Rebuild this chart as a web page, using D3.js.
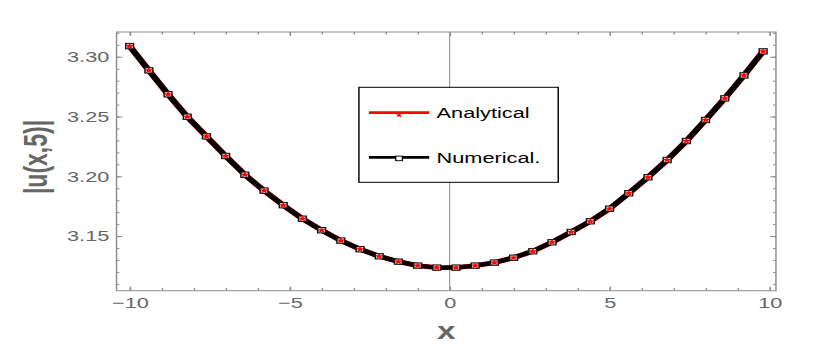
<!DOCTYPE html>
<html>
<head>
<meta charset="utf-8">
<script src="https://cdn.jsdelivr.net/npm/d3@7"></script>
<style>
  body { margin: 0; background: #fff; }
  text { font-family: "Liberation Sans", Arial, sans-serif; }
</style>
</head>
<body>
<svg width="819" height="353"></svg>
<script>
// **** Data ****

var xValues = [-10, -9.4, -8.8, -8.2, -7.6, -7.0, -6.4, -5.8, -5.2, -4.6, -4.0, -3.4,
    -2.8, -2.2, -1.6, -1.0, -0.4, 0.2, 0.8, 1.4, 2.0, 2.6, 3.2, 3.8, 4.4, 5.0,
    5.6, 6.2, 6.8, 7.4, 8.0, 8.6, 9.2, 9.8];

var analytical = [3.3089, 3.2886, 3.2686, 3.2498, 3.2334, 3.2170, 3.2013, 3.1880,
    3.1758, 3.1645, 3.1549, 3.1462, 3.1390, 3.1331, 3.1286, 3.1253, 3.1236, 3.1236,
    3.1253, 3.1278, 3.1319, 3.1373, 3.1448, 3.1534, 3.1624, 3.1729, 3.1858, 3.1992,
    3.2136, 3.2295, 3.2471, 3.2652, 3.2844, 3.3045];

var numerical = [3.3089, 3.2886, 3.2686, 3.2498, 3.2334, 3.2170, 3.2013, 3.1880,
    3.1758, 3.1645, 3.1549, 3.1462, 3.1390, 3.1331, 3.1286, 3.1253, 3.1236, 3.1236,
    3.1253, 3.1278, 3.1319, 3.1373, 3.1448, 3.1534, 3.1624, 3.1729, 3.1858, 3.1992,
    3.2136, 3.2295, 3.2471, 3.2652, 3.2844, 3.3045];

var xTicks = [-10, -5, 0, 5, 10];
var xMinorTicks = [-10, -9, -8, -7, -6, -5, -4, -3, -2, -1, 0, 1, 2, 3, 4, 5, 6, 7, 8, 9, 10];
var yTicks = [3.15, 3.20, 3.25, 3.30];
var yMinorTicks = [3.11, 3.12, 3.13, 3.14, 3.15, 3.16, 3.17, 3.18, 3.19, 3.20,
    3.21, 3.22, 3.23, 3.24, 3.25, 3.26, 3.27, 3.28, 3.29, 3.30, 3.31, 3.32];

var seriesNames = ["Analytical", "Numerical."];

// the original picture is stretched sideways, so draw in a narrower box
var svg = d3.select('svg')
    .attr('viewBox', '0 0 565 353')
    .attr('preserveAspectRatio', 'none');

var pLeft = 80.4, pRight = 535.3, pTop = 32, pBottom = 290.7;
var frameColor = '#8c8c8c', labelColor = '#666';

var xScale = d3.scaleLinear().domain([-10.41, 10.2]).range([pLeft, pRight]);
var yScale = d3.scaleLinear().domain([3.1043, 3.3207]).range([pBottom, pTop]);

// **** Axes and frame ****

function tickAxis(axis, values, size, cls, transform) {
    var g = svg.append('g').attr('class', cls)
        .attr('transform', transform)
        .call(axis.tickValues(values).tickSize(size).tickFormat(''));
    g.select('.domain').remove();
    g.selectAll('line').attr('stroke', frameColor);
    return g;
}

tickAxis(d3.axisBottom(xScale), xMinorTicks, -2.5, 'x minor', `translate(0,${pBottom})`);
tickAxis(d3.axisTop(xScale), xMinorTicks, -2.5, 'x minor', `translate(0,${pTop})`);
tickAxis(d3.axisTop(xScale), xTicks, -4, 'x major', `translate(0,${pTop})`);
tickAxis(d3.axisLeft(yScale), yMinorTicks, -2, 'y minor', `translate(${pLeft},0)`);
tickAxis(d3.axisRight(yScale), yMinorTicks, -2, 'y minor', `translate(${pRight},0)`);
tickAxis(d3.axisRight(yScale), yTicks, -4, 'y major', `translate(${pRight},0)`);

var xAxis = svg.append('g').attr('class', 'x axis')
    .attr('transform', `translate(0,${pBottom})`)
    .call(d3.axisBottom(xScale).tickValues(xTicks).tickSize(-4).tickPadding(7));
var yAxis = svg.append('g').attr('class', 'y axis')
    .attr('transform', `translate(${pLeft},0)`)
    .call(d3.axisLeft(yScale).tickValues(yTicks).tickSize(-4).tickPadding(5)
        .tickFormat(d3.format('.2f')));

[xAxis, yAxis].forEach(g => {
    g.select('.domain').remove();
    g.selectAll('line').attr('stroke', frameColor);
    g.selectAll('text')
        .style('font-size', '15px')
        .style('font-family', '"Liberation Sans", Arial, sans-serif')
        .attr('fill', labelColor);
});

svg.append('rect')
    .attr('x', pLeft).attr('y', pTop)
    .attr('width', pRight - pLeft).attr('height', pBottom - pTop)
    .attr('fill', 'none').attr('stroke', frameColor).attr('stroke-width', 1);

// vertical axis at x = 0
svg.append('line')
    .attr('x1', xScale(0)).attr('x2', xScale(0))
    .attr('y1', pTop).attr('y2', pBottom)
    .attr('stroke', '#999').attr('stroke-width', 0.8);

svg.append('text')
    .attr('text-anchor', 'middle')
    .attr('x', (pLeft + pRight) / 2)
    .attr('y', 339)
    .style('font-size', '23px')
    .style('font-weight', 'bold')
    .attr('fill', labelColor)
    .text('x');

svg.append('text')
    .attr('text-anchor', 'middle')
    .attr('transform', 'translate(32.4,157) rotate(-90)')
    .style('font-size', '23px')
    .style('font-weight', 'bold')
    .attr('fill', labelColor)
    .text('|u(x,5)|');

// **** Curves and markers ****

var line = d3.line()
    .x(d => xScale(d[0]))
    .y(d => yScale(d[1]));

var aPts = xValues.map((x, i) => [x, analytical[i]]);
var nPts = xValues.map((x, i) => [x, numerical[i]]);

svg.append('path').datum(aPts)
    .attr('d', line)
    .attr('fill', 'none').attr('stroke', 'red').attr('stroke-width', 4.8)
    .attr('stroke-linejoin', 'round');

svg.append('path').datum(nPts)
    .attr('d', line)
    .attr('fill', 'none').attr('stroke', 'black').attr('stroke-width', 4.4)
    .attr('stroke-linejoin', 'round');

var star = d3.symbol().type(d3.symbolStar).size(13);

function square(sel, cx, cy) {
    sel.append('rect')
        .attr('x', cx - 2.7).attr('y', cy - 2.7)
        .attr('width', 5.4).attr('height', 5.4)
        .attr('fill', '#ccc').attr('stroke', '#111').attr('stroke-width', 1);
}

nPts.forEach(d => square(svg, xScale(d[0]), yScale(d[1])));

svg.selectAll('.astar')
    .data(aPts)
    .enter()
    .append('path')
    .attr('class', 'astar')
    .attr('d', star)
    .attr('transform', d => `translate(${xScale(d[0])},${yScale(d[1])})`)
    .attr('fill', 'red');

// **** Legend ****

var legend = svg.append('g').attr('class', 'legend');

legend.append('rect')
    .attr('x', 247.6).attr('y', 87.3)
    .attr('width', 137.5).attr('height', 95)
    .attr('fill', 'white').attr('stroke', 'black').attr('stroke-width', 1);

var rows = [
    { name: seriesNames[0], y: 112.7, color: 'red' },
    { name: seriesNames[1], y: 157.3, color: 'black' }
];

rows.forEach((r, i) => {
    legend.append('line')
        .attr('x1', 254.5).attr('x2', 296.1)
        .attr('y1', r.y).attr('y2', r.y)
        .attr('stroke', r.color).attr('stroke-width', 2.8);
    if (i === 0) {
        legend.append('path')
            .attr('d', d3.symbol().type(d3.symbolStar).size(8))
            .attr('transform', `translate(275.3,${r.y + 2.5})`)
            .attr('fill', 'red');
    } else {
        legend.append('rect')
            .attr('x', 273).attr('y', r.y - 1.2)
            .attr('width', 4.6).attr('height', 4.6)
            .attr('fill', 'white').attr('stroke', 'black').attr('stroke-width', 0.9);
    }
    legend.append('text')
        .attr('x', 301.2)
        .attr('y', r.y + 5.4)
        .style('font-size', '15px')
        .attr('fill', 'black')
        .text(r.name);
});
</script>
</body>
</html>
